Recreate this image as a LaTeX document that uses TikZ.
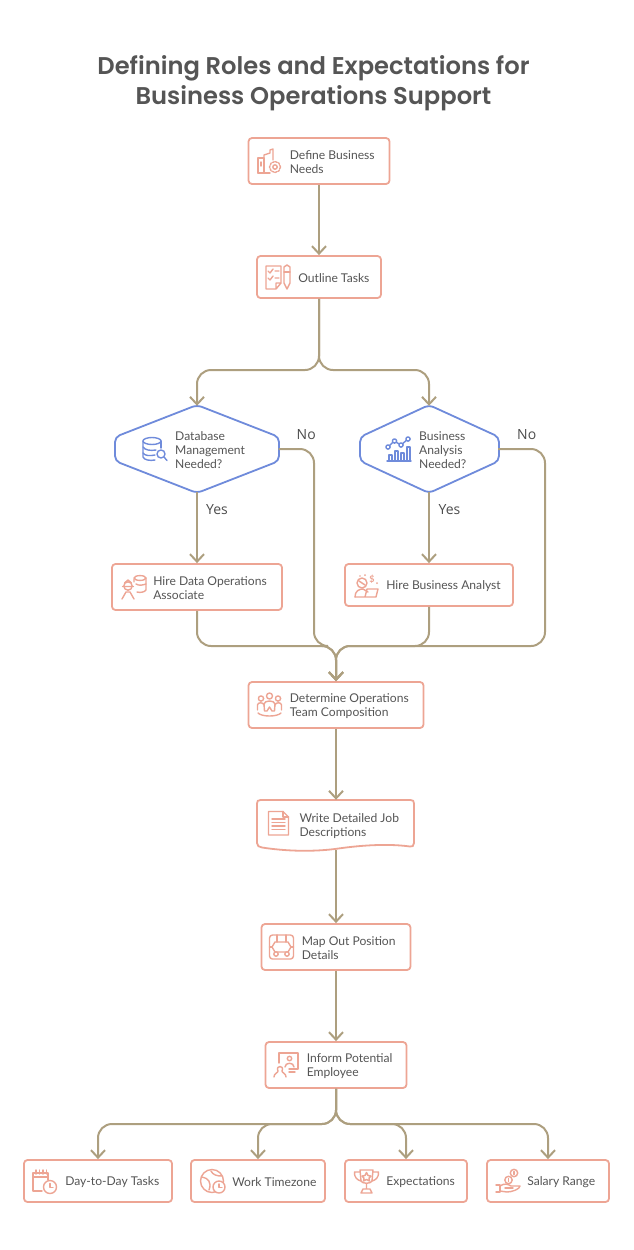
\documentclass[tikz,border=0pt]{standalone}
\usepackage{fontspec}
\setmainfont{Lato}
\newfontfamily\titlefont{Poppins SemiBold}
\newfontfamily\tagfont{Open Sans}
\usetikzlibrary{positioning,arrows.meta}
\definecolor{salmon}{HTML}{EDA594}
\definecolor{hexblue}{HTML}{6F8BDB}
\definecolor{flowtan}{HTML}{AD9F7F}
\definecolor{inkgrey}{HTML}{555555}
\begin{document}
\begin{tikzpicture}[x=1pt,y=-1pt,
    stepbox/.style ={draw=salmon, line width=1.8pt, rounded corners=3.5pt, fill=white, inner sep=0pt},
    stepname/.style ={font=\fontsize{12.1}{14}\selectfont, text=inkgrey, align=left, inner sep=0pt, yshift=-1pt},
    ghost/.style ={inner sep=0pt, minimum width=157pt, minimum height=50pt},
    hexline/.style ={draw=hexblue, line width=1.8pt, rounded corners=5pt, fill=white},
    flow/.style ={draw=flowtan, line width=2pt, rounded corners=14pt, -{Straight Barb[length=7.5pt,width=14pt,line width=2pt]}},
    tag/.style ={font=\tagfont\fontsize{14}{16}\selectfont, text=inkgrey!90!black, inner sep=0pt},
    ico/.style ={draw=salmon, line width=1.4pt, line join=round, line cap=round},
    icob/.style ={draw=hexblue, line width=1.4pt, line join=round, line cap=round}]
   \useasboundingbox (0,0) rectangle (634,1250);

   \node[font=\titlefont\fontsize{24.2}{30}\selectfont, text=inkgrey, align=center] (title) at (313.5,83) {Defining Roles and Expectations for\\Business Operations Support};

   % boxes
   \node[stepbox, minimum width=141pt, minimum height=46pt] (define) at (319,161) {};
   \node[stepbox, minimum width=124pt, minimum height=42pt] (outline) at (319,277) {};
   \node[stepbox, minimum width=170pt, minimum height=46pt] (hiredata) at (197,587) {};
   \node[stepbox, minimum width=168pt, minimum height=42pt] (hireanalyst) at (429,585) {};
   \node[stepbox, minimum width=175pt, minimum height=46pt] (team) at (336,705) {};
   \node[stepbox, minimum width=149pt, minimum height=46pt] (map) at (336,947) {};
   \node[stepbox, minimum width=141pt, minimum height=46pt] (inform) at (336,1065) {};
   \node[stepbox, minimum width=148pt, minimum height=42pt] (daily) at (98,1181) {};
   \node[stepbox, minimum width=134pt, minimum height=42pt] (zone) at (258,1181) {};
   \node[stepbox, minimum width=122pt, minimum height=42pt] (expect) at (406,1181) {};
   \node[stepbox, minimum width=122pt, minimum height=42pt] (salary) at (548,1181) {};

   % wavy box and hexagons
   \node[ghost] (jobdoc) at (336,825) {};
   \draw[draw=salmon, line width=1.8pt, fill=white] (260.5,800) -- (410.5,800) .. controls (413,800) and (414,801) .. (414,803.5) -- (414,843)
      .. controls (414,846) and (412,847) .. (410,846.5) .. controls (385,843) and (355,846) .. (335,849)
      .. controls (310,852) and (285,851) .. (262,847.5) .. controls (259,847) and (257,846) .. (257,843) -- (257,803.5)
      .. controls (257,801) and (258,800) .. (260.5,800) -- cycle;
   \node[ghost, minimum width=163pt, minimum height=86pt] (needdb) at (197,449) {};
   \draw[hexline] (197,405) -- (279,437) -- (279,461) -- (197,493) -- (115,461) -- (115,437) -- cycle;
   \node[ghost, minimum width=138pt, minimum height=86pt] (needba) at (429,449) {};
   \draw[hexline] (429,405) -- (499,437) -- (499,461) -- (429,493) -- (360,461) -- (360,437) -- cycle;

   % texts
   \node[stepname, right=42pt of define.west] (definetext) {Define Business\\Needs};
   \node[stepname, right=42pt of outline.west] (outlinetext) {Outline Tasks};
   \node[stepname, right=-22pt of needdb.center] (needdbtext) {Database\\Management\\Needed?};
   \node[stepname, right=-10pt of needba.center] (needbatext) {Business\\Analysis\\Needed?};
   \node[stepname, right=42pt of hiredata.west] (hiredatatext) {Hire Data Operations\\Associate};
   \node[stepname, right=42pt of hireanalyst.west] (hireanalysttext) {Hire Business Analyst};
   \node[stepname, right=42pt of team.west] (teamtext) {Determine Operations\\Team Composition};
   \node[stepname, right=42pt of jobdoc.west] (jobdoctext) {Write Detailed Job\\Descriptions};
   \node[stepname, right=41pt of map.west] (maptext) {Map Out Position\\Details};
   \node[stepname, right=42pt of inform.west] (informtext) {Inform Potential\\Employee};
   \node[stepname, right=42pt of daily.west] (dailytext) {Day-to-Day Tasks};
   \node[stepname, right=42pt of zone.west] (zonetext) {Work Timezone};
   \node[stepname, right=42pt of expect.west] (expecttext) {Expectations};
   \node[stepname, right=41pt of salary.west] (salarytext) {Salary Range};

   % junctions
   \coordinate (splittop) at (319,370);
   \coordinate (join) at (336,646);
   \coordinate (splitlow) at (336,1124);
   \coordinate (nodbturn) at (314,449);
   \coordinate (nobaturn) at (545,449);

   % connectors
   \draw[flow] (define) -- (outline);
   \draw[flow] (outline.south) -- (splittop) -| (needdb.north);
   \draw[flow] (outline.south) -- (splittop) -| (needba.north);
   \draw[flow] (needdb) -- (hiredata);
   \draw[flow] (needba) -- (hireanalyst);
   \draw[flow] (needdb.east) -- (nodbturn) |- (join) -- (team.north);
   \draw[flow] (needba.east) -- (nobaturn) |- (join) -- (team.north);
   \draw[flow] (hiredata.south) |- (join) -- (team.north);
   \draw[flow] (hireanalyst.south) |- (join) -- (team.north);
   \draw[flow] (team) -- (jobdoc);
   \draw[flow] (jobdoc) -- (map);
   \draw[flow] (map) -- (inform);
   \draw[flow] (inform.south) -- (splitlow) -| (daily.north);
   \draw[flow] (inform.south) -- (splitlow) -| (zone.north);
   \draw[flow] (inform.south) -- (splitlow) -| (expect.north);
   \draw[flow] (inform.south) -- (splitlow) -| (salary.north);

   % connector labels
   \node[tag, anchor=west] (yesdb) at (206,510) {Yes};
   \node[tag, anchor=west] (yesba) at (438.5,510) {Yes};
   \node[tag, anchor=west] (nodb) at (296.5,435) {No};
   \node[tag, anchor=west] (noba) at (517,435) {No};

   % icon: buildings and gear
   \draw[ico] (258,158) rectangle (264,173);
   \draw[ico] (264,173) -- (264,155) -- (270,153) -- (270,150) -- (273,149) -- (273,160);
   \draw[ico] (258,173) -- (270,173);
   \draw[ico] (261,162) -- (261,166);
   \draw[ico] (275,167) circle (2.2);
   \draw[ico, dash pattern=on 2pt off 1.2pt] (275,167) circle (5.5);
   % icon: checklist and pen
   \draw[ico] (281,283) -- (281,266) -- (266,266) -- (266,289) -- (276,289) -- (281,283) -- (276,283) -- (276,289);
   \draw[ico] (268,271) -- (270,273) -- (273,269) (275,271) -- (279,271);
   \draw[ico] (268,278) -- (270,280) -- (273,276) (275,278) -- (279,278);
   \draw[ico] (284,267) -- (284,283) -- (287,289) -- (290,283) -- (290,267) -- (287,265) -- cycle;
   \draw[ico] (284,272) -- (290,272);
   % icon: database search
   \draw[icob] (152,441) ellipse (9 and 3.5);
   \draw[icob] (143,441) -- (143,457) .. controls (144,460) and (150,461) .. (155,460);
   \draw[icob] (161,441) -- (161,448);
   \draw[icob] (143,447) .. controls (145,450) and (150,451) .. (156,450);
   \draw[icob] (143,453) .. controls (145,456) and (150,456) .. (155,455);
   \draw[icob] (161,454) circle (4);
   \draw[icob] (164,457) -- (167,460.5);
   % icon: chart
   \draw[icob] (388,447) -- (394,441) -- (401,445) -- (408,439);
   \foreach \cx/\cy in {388/447,394.5/441,401/445,408/439} \draw[icob, fill=white] (\cx,\cy) circle (2.1);
   \draw[icob] (387,461) -- (411,461);
   \draw[icob] (389,461) -- (389,455) -- (392,455) -- (392,461);
   \draw[icob] (395,461) -- (395,451) -- (398,451) -- (398,461);
   \draw[icob] (401,461) -- (401,453) -- (404,453) -- (404,461);
   \draw[icob] (407,461) -- (407,447) -- (410,447) -- (410,461);
   % icon: worker and data stack
   \draw[ico] (128,586) circle (4.2);
   \draw[ico] (122.5,586.5) -- (133.5,586.5) (124.5,583) -- (128,580) -- (131.5,583);
   \draw[ico] (122,599) -- (126,592) -- (130,592) -- (134,599);
   \draw[ico] (140,578) ellipse (6 and 2.4);
   \draw[ico] (134,579) -- (134,582) (146,578) -- (146,590) .. controls (145,592) and (140,593) .. (137,592);
   \draw[ico] (136,584) .. controls (139,586) and (143,585) .. (146,584);
   % icon: analyst with laptop
   \draw[ico] (362,583) circle (5);
   \draw[ico] (359,581) -- (365,585);
   \draw[ico] (355,597) .. controls (355,591) and (359,589) .. (363,589) -- (368,592);
   \draw[ico] (355,597) -- (376,597) -- (378,589) -- (367,589) -- (365,597);
   \node[font=\bfseries\fontsize{9}{9}\selectfont, text=salmon, inner sep=0pt] (dollar) at (372,579) {\$};
   \fill[salmon] (365,575) circle (1) (377,583) circle (1) (360,576) circle (0.8);
   % icon: team
   \draw[ico] (269.5,696) circle (3);
   \foreach \cx in {261,278} {
     \draw[ico] (\cx,698.5) circle (2.6);
   }
   \draw[ico] (257.5,710) -- (257.5,705) .. controls (257.5,702) and (263.5,702) .. (264,705);
   \draw[ico] (275,705) .. controls (275.5,702) and (281.5,702) .. (281.5,705) -- (281.5,710);
   \draw[ico] (264.5,711) -- (264,704) .. controls (264,700) and (275,700) .. (275,704) -- (274.5,711) -- (272,711) -- (269.5,707) -- (267,711) -- cycle;
   \draw[ico] (258,713) .. controls (262,717) and (277,717) .. (281,713);
   % icon: document
   \draw[ico] (268.5,811.5) -- (283,811.5) -- (288.5,817) -- (288.5,835) -- (268.5,835) -- cycle;
   \draw[ico] (283,811.5) -- (283,817) -- (288.5,817);
   \foreach \ly in {819,822.5,826,829.5} \draw[ico] (272,\ly) -- (285,\ly);
   % icon: map grid
   \draw[ico, rounded corners=3pt] (269.5,935) rectangle (293.5,959);
   \draw[ico] (275,942) -- (288,942) -- (291,947) -- (288,952) -- (275,952) -- (272,947) -- cycle;
   \draw[ico] (277,935) -- (277,942) (286,935) -- (286,942) (269.5,947) -- (272,947) (291,947) -- (293.5,947);
   \draw[ico, fill=white] (276,954) circle (2.2) (287,954) circle (2.2);
   % icon: monitor and person
   \draw[ico] (279,1063) -- (279,1053) -- (298,1053) -- (298,1069) -- (289,1069);
   \draw[ico] (289,1072) -- (295,1072);
   \draw[ico] (289.5,1058.5) circle (2.2);
   \draw[ico] (285,1067) .. controls (285,1062) and (294,1062) .. (294,1067);
   \draw[ico] (274,1077) .. controls (274,1073) and (278,1073) .. (278,1071) .. controls (275,1065) and (285,1065) .. (282,1071) .. controls (282,1073) and (286,1073) .. (286,1077);
   % icon: calendar and clock
   \draw[ico] (43,1173) -- (48,1173) -- (48,1180);
   \draw[ico] (42,1191) -- (33,1191) -- (33,1173) -- (43,1173);
   \draw[ico] (33,1177) -- (48,1177);
   \foreach \tx in {36,39.5,43,46.5} \draw[ico] (\tx,1170) -- (\tx,1174);
   \draw[ico] (50,1187) circle (6.5);
   \draw[ico] (50,1183.5) -- (50,1187.5) -- (53,1187.5);
   % icon: globe and clock
   \draw[ico] (212,1181) circle (11.5);
   \draw[ico] (202,1177) .. controls (208,1178) and (212,1182) .. (209,1190) (211,1171) .. controls (213,1175) and (217,1176) .. (222,1176);
   \draw[ico, fill=white] (219,1187) circle (6);
   \draw[ico] (219,1184) -- (219,1187.5) -- (222,1187.5);
   % icon: trophy
   \draw[ico] (360,1170) -- (373,1170) -- (372,1181) .. controls (371,1184) and (362,1184) .. (361,1181) -- cycle;
   \draw[ico] (360,1172) -- (354.5,1172) .. controls (354,1177) and (357,1180) .. (361,1181);
   \draw[ico] (373,1172) -- (378.5,1172) .. controls (379,1177) and (376,1180) .. (372,1181);
   \draw[ico] (366.5,1184) -- (366.5,1189) (361,1193) -- (372,1193) -- (370,1189) -- (363,1189) -- cycle;
   \draw[ico] (366.5,1172.5) -- (368,1175.5) -- (371,1176) -- (369,1178) -- (369.5,1181) -- (366.5,1179.5) -- (363.5,1181) -- (364,1178) -- (362,1176) -- (365,1175.5) -- cycle;
   % icon: hand with coins
   \draw[ico] (514,1173) circle (3.7);
   \draw[ico] (508.5,1180) circle (3.7);
   \draw[ico] (514,1171.5) -- (514,1174.5) (508.5,1178.5) -- (508.5,1181.5);
   \draw[ico] (496,1185) -- (500,1185) -- (500,1192) -- (496,1192);
   \draw[ico] (500,1186) .. controls (504,1183) and (508,1184) .. (511,1186) -- (520,1186) .. controls (520,1189) and (512,1192) .. (507,1192) -- (500,1191);
   \draw[ico] (505,1188) -- (513,1188);
 \end{tikzpicture}
\end{document}
